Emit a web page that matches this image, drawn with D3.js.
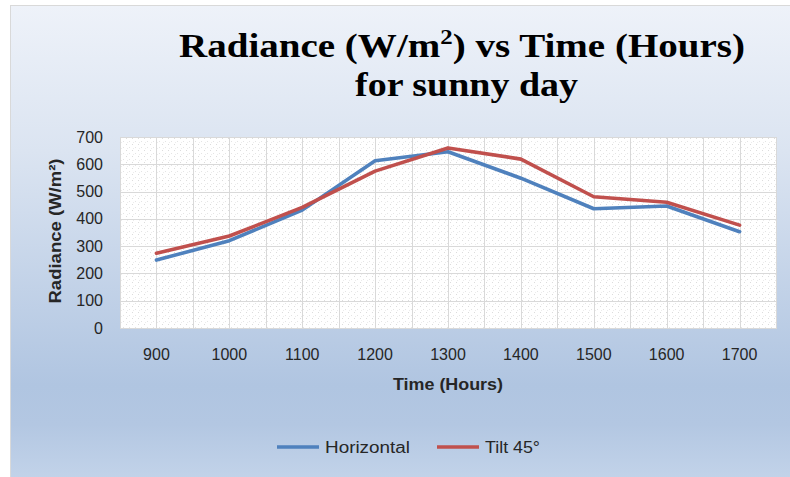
<!DOCTYPE html>
<html>
<head>
<meta charset="utf-8">
<script src="https://cdn.jsdelivr.net/npm/d3@7"></script>
<style>
  html, body { margin: 0; padding: 0; background: #ffffff; }
  svg { display: block; }
</style>
</head>
<body>
<svg id="chart" width="790" height="477"></svg>
<script>
// ---- data ----
const categories = ["900", "1000", "1100", "1200", "1300", "1400", "1500", "1600", "1700"];
const horizontal = [249, 320, 432, 613, 646, 549, 437, 447, 353];
const tilt45 = [274, 337, 442, 575, 660, 619, 481, 461, 377];
const yTicks = [0, 100, 200, 300, 400, 500, 600, 700];
const seriesNames = ["Horizontal", "Tilt 45°"];
const seriesColors = ["#4f81bd", "#c0504d"];

const svg = d3.select("#chart");
const W = 790, H = 477;
const plot = { left: 120, right: 776, top: 137, bottom: 328 };

const defs = svg.append("defs");
const bg = defs.append("linearGradient").attr("id", "bgGrad")
  .attr("x1", 0).attr("y1", 0).attr("x2", 0).attr("y2", 1);
bg.append("stop").attr("offset", "0%").attr("stop-color", "#eef2f9");
bg.append("stop").attr("offset", "30%").attr("stop-color", "#dbe4f1");
bg.append("stop").attr("offset", "78%").attr("stop-color", "#b0c5e1");
bg.append("stop").attr("offset", "86%").attr("stop-color", "#b3c7e2");
bg.append("stop").attr("offset", "100%").attr("stop-color", "#c6d6eb");

const pat = defs.append("pattern").attr("id", "dots")
  .attr("width", 6).attr("height", 6).attr("patternUnits", "userSpaceOnUse");
pat.append("rect").attr("width", 6).attr("height", 6).attr("fill", "#ffffff");
pat.append("rect").attr("x", 0).attr("y", 0).attr("width", 1).attr("height", 1).attr("fill", "#dcdcdc");
pat.append("rect").attr("x", 3).attr("y", 3).attr("width", 1).attr("height", 1).attr("fill", "#e4e4e4");
pat.append("rect").attr("x", 1).attr("y", 4).attr("width", 1).attr("height", 1).attr("fill", "#ececec");

// chart area (border only visible on left and top)
svg.append("rect").attr("x", 10.5).attr("y", 5.5).attr("width", W + 10).attr("height", H + 10)
  .attr("fill", "url(#bgGrad)").attr("stroke", "#d9d9d9").attr("stroke-width", 1);

// scales
const x = d3.scaleBand().domain(categories).range([plot.left, plot.right]).padding(0);
const y = d3.scaleLinear().domain([0, 700]).range([plot.bottom, plot.top]);
const cx = d => x(d) + x.bandwidth() / 2;

// plot area
svg.append("rect").attr("x", plot.left).attr("y", plot.top)
  .attr("width", plot.right - plot.left).attr("height", plot.bottom - plot.top)
  .attr("fill", "url(#dots)");

// gridlines
const grid = svg.append("g").attr("stroke", "#d9d9d9").attr("stroke-width", 1);
grid.selectAll("line.h").data(yTicks).join("line")
  .attr("x1", plot.left).attr("x2", plot.right)
  .attr("y1", d => Math.round(y(d)) + 0.5).attr("y2", d => Math.round(y(d)) + 0.5);
const vPos = [];
categories.forEach(c => { vPos.push(x(c)); vPos.push(cx(c)); });
vPos.push(plot.right);
grid.selectAll("line.v").data(vPos).join("line")
  .attr("y1", plot.top).attr("y2", plot.bottom)
  .attr("x1", d => Math.round(d) + 0.5).attr("x2", d => Math.round(d) + 0.5);
svg.append("rect").attr("x", plot.left + 0.5).attr("y", Math.round(plot.top) + 0.5)
  .attr("width", plot.right - plot.left).attr("height", plot.bottom - plot.top)
  .attr("fill", "none").attr("stroke", "#d9d9d9");

// axes (labels only)
const yAxis = d3.axisLeft(y).tickValues(yTicks).tickSize(0).tickPadding(17);
const gy = svg.append("g").attr("transform", `translate(${plot.left},0)`).call(yAxis);
gy.select(".domain").remove();
gy.selectAll("text").attr("font-family", "Liberation Sans, Arial, sans-serif")
  .attr("font-size", 16).attr("fill", "#262626");

const xAxis = d3.axisBottom(x).tickSize(0).tickPadding(21);
const gx = svg.append("g").attr("transform", `translate(0,${plot.bottom})`).call(xAxis);
gx.select(".domain").remove();
gx.selectAll("text").attr("font-family", "Liberation Sans, Arial, sans-serif")
  .attr("font-size", 16).attr("fill", "#262626");

// lines
const line = d3.line().x((d, i) => cx(categories[i])).y(d => y(d));
[horizontal, tilt45].forEach((s, k) => {
  svg.append("path").datum(s).attr("d", line)
    .attr("fill", "none").attr("stroke", seriesColors[k])
    .attr("stroke-width", 3.6).attr("stroke-linejoin", "round").attr("stroke-linecap", "round");
});

// title
const title = svg.append("g").attr("font-family", "Liberation Serif, Times New Roman, serif")
  .attr("font-weight", "bold").attr("fill", "#000").attr("text-anchor", "middle");
const t1 = title.append("text").attr("x", 462).attr("y", 57).attr("font-size", 33)
  .attr("textLength", 566).attr("lengthAdjust", "spacingAndGlyphs");
t1.append("tspan").text("Radiance (W/m");
t1.append("tspan").attr("font-size", 21).attr("dy", -13).text("2");
t1.append("tspan").attr("dy", 13).text(") vs Time (Hours)");
title.append("text").attr("x", 466.5).attr("y", 96).attr("font-size", 33)
  .attr("textLength", 223).attr("lengthAdjust", "spacingAndGlyphs")
  .text("for sunny day");

// axis titles
svg.append("text").attr("x", 448).attr("y", 390).attr("text-anchor", "middle")
  .attr("font-family", "Liberation Sans, Arial, sans-serif").attr("font-weight", "bold")
  .attr("font-size", 16).attr("fill", "#262626")
  .attr("textLength", 110).attr("lengthAdjust", "spacingAndGlyphs")
  .text("Time (Hours)");
svg.append("text").attr("transform", "translate(61,231) rotate(-90)").attr("text-anchor", "middle")
  .attr("font-family", "Liberation Sans, Arial, sans-serif").attr("font-weight", "bold")
  .attr("font-size", 16).attr("fill", "#262626")
  .attr("textLength", 145).attr("lengthAdjust", "spacingAndGlyphs")
  .text("Radiance (W/m²)");

// legend
const legendX = [277, 437];
const legendTextLen = [85, 55];
const lg = svg.append("g");
seriesNames.forEach((n, k) => {
  lg.append("line").attr("x1", legendX[k]).attr("x2", legendX[k] + 42)
    .attr("y1", 447).attr("y2", 447).attr("stroke", seriesColors[k]).attr("stroke-width", 3.6);
  lg.append("text").attr("x", legendX[k] + 48).attr("y", 453)
    .attr("font-family", "Liberation Sans, Arial, sans-serif").attr("font-size", 16)
    .attr("fill", "#262626")
    .attr("textLength", legendTextLen[k]).attr("lengthAdjust", "spacingAndGlyphs")
    .text(n);
});
</script>
</body>
</html>
